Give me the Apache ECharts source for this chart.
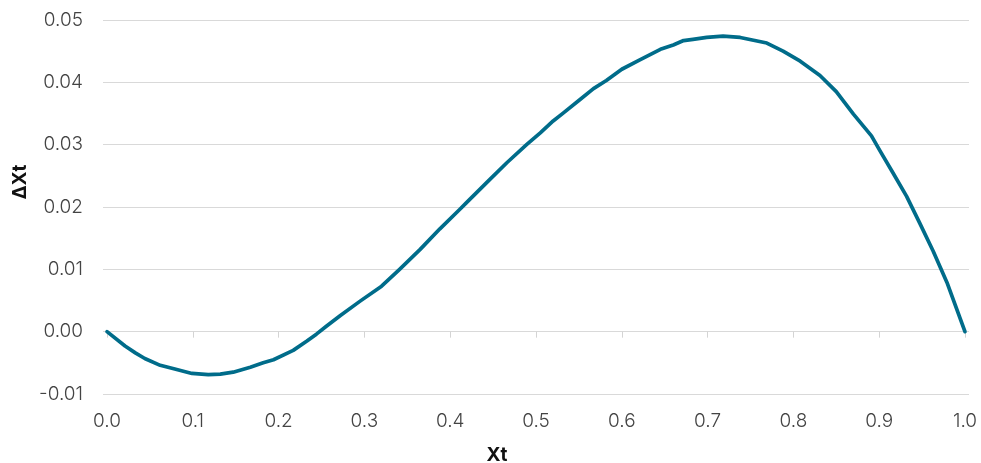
<!DOCTYPE html>
<html>
<head>
<meta charset="utf-8">
<script src="https://cdn.jsdelivr.net/npm/echarts@6/dist/echarts.min.js"></script>
<style>
html,body{margin:0;padding:0;background:#fff;}
#chart{width:981px;height:463px;}
</style>
</head>
<body>
<div id="chart"></div>
<script>
const xValues = [0, 0.021, 0.033, 0.044, 0.062, 0.079, 0.099, 0.118, 0.132, 0.147, 0.167, 0.182, 0.194, 0.217, 0.233, 0.244, 0.256, 0.272, 0.295, 0.320, 0.341, 0.365, 0.388, 0.411, 0.419, 0.446, 0.466, 0.489, 0.505, 0.520, 0.532, 0.551, 0.567, 0.582, 0.600, 0.621, 0.645, 0.660, 0.672, 0.683, 0.699, 0.718, 0.738, 0.769, 0.788, 0.808, 0.831, 0.850, 0.870, 0.891, 0.901, 0.916, 0.932, 0.947, 0.963, 0.979, 1.0];
const yValues = [0, -0.0023, -0.0034, -0.0043, -0.0054, -0.0060, -0.0067, -0.0069, -0.0068, -0.0065, -0.0057, -0.0050, -0.0045, -0.0030, -0.0015, -0.0004, 0.0009, 0.0026, 0.0049, 0.0073, 0.0100, 0.0132, 0.0165, 0.0196, 0.0207, 0.0244, 0.0271, 0.0300, 0.0319, 0.0338, 0.0351, 0.0372, 0.0390, 0.0403, 0.0421, 0.0436, 0.0453, 0.0460, 0.0467, 0.0469, 0.0472, 0.0474, 0.0472, 0.0463, 0.0450, 0.0434, 0.0411, 0.0385, 0.0349, 0.0314, 0.0290, 0.0255, 0.0217, 0.0175, 0.0129, 0.0079, 0.0];
const xTicks = [0, 0.1, 0.2, 0.3, 0.4, 0.5, 0.6, 0.7, 0.8, 0.9, 1.0];
const yMin = -0.01, yMax = 0.05, yStep = 0.01;
const xTitle = 'Xt';
const yTitle = 'ΔXt';

const chart = echarts.init(document.getElementById('chart'), null, {renderer: 'canvas'});
const labelFont = {fontFamily: 'Inter', fontSize: 19, fontWeight: 300, color: '#444'};
const option = {
  animation: false,
  backgroundColor: '#fff',
  grid: {left: 103, right: 12, top: 20, bottom: 69, containLabel: false},
  xAxis: [
    {
      type: 'value', min: -0.0047, max: 1.0047,
      axisLine: {show: false, onZero: true},
      axisTick: {show: true, customValues: xTicks, length: 6, lineStyle: {color: '#d4d4d4', width: 1}},
      axisLabel: {show: false},
      splitLine: {show: false}
    },
    {
      type: 'value', min: -0.0047, max: 1.0047, position: 'bottom',
      axisLine: {show: false, onZero: false},
      axisTick: {show: false},
      axisLabel: Object.assign({show: true, customValues: xTicks, margin: 18,
        formatter: v => v.toFixed(1)}, labelFont),
      splitLine: {show: false}
    }
  ],
  yAxis: {
    type: 'value', min: yMin, max: yMax, interval: yStep,
    axisLine: {show: false}, axisTick: {show: false},
    axisLabel: Object.assign({margin: 20, formatter: v => v.toFixed(2)}, labelFont),
    splitLine: {show: true, lineStyle: {color: '#d9d9d9', width: 1}}
  },
  graphic: [
    {type: 'text', x: 20, y: 182, rotation: Math.PI / 2,
      style: {text: yTitle, fontFamily: 'Inter', fontSize: 19, fontWeight: 'bold', fill: '#111', align: 'center', verticalAlign: 'middle'}},
    {type: 'text', x: 497, y: 455,
      style: {text: xTitle, fontFamily: 'Inter', fontSize: 19, fontWeight: 'bold', fill: '#111', align: 'center', verticalAlign: 'middle'}}
  ],
  series: [{
    type: 'line',
    xAxisIndex: 0,
    data: xValues.map((x, i) => [x, yValues[i]]),
    showSymbol: false,
    smooth: false,
    lineStyle: {color: '#006C8A', width: 3.7, cap: 'round', join: 'round'},
    clip: false
  }]
};
chart.setOption(option);
</script>
</body>
</html>
